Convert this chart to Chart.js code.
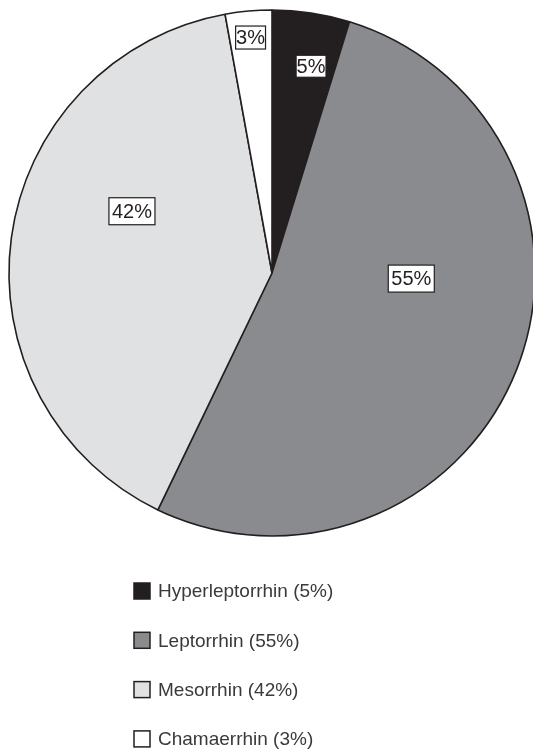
<!DOCTYPE html>
<html>
<head>
<meta charset="utf-8">
<script src="https://cdn.jsdelivr.net/npm/chart.js@4.4.1/dist/chart.umd.min.js"></script>
<style>
  html, body { margin: 0; padding: 0; background: #ffffff; }
  #wrap { width: 533px; height: 752px; overflow: hidden; position: relative; }
  canvas { display: block; }
</style>
</head>
<body>
<div id="wrap"><canvas id="nasal" width="544" height="752"></canvas></div>
<script>
// Nasal index classes and their shares (%)
const categories = ['Hyperleptorrhin', 'Leptorrhin', 'Mesorrhin', 'Chamaerrhin'];
const shares = [5, 55, 42, 3];

// Styling
const sliceColors = ['#231f20', '#8a8b8f', '#e0e1e3', '#ffffff'];
const outlineColor = '#231f20';
const FONT = '"Liberation Sans", Arial, Helvetica, sans-serif';

// Percentage boxes: angle clockwise from 12 o'clock (deg), fraction of radius,
// horizontal padding and box height
const labelPlacement = [
  { angle: 10.7,  frac: 0.800, padX: 0.5, h: 22 },
  { angle: 92.3,  frac: 0.530, padX: 3,   h: 27 },
  { angle: 293.8, frac: 0.582, padX: 3,   h: 27 },
  { angle: 354.8, frac: 0.899, padX: 0.5, h: 23 }
];

const percentBoxes = {
  id: 'percentBoxes',
  afterDatasetsDraw(chart) {
    const ctx = chart.ctx;
    const arcs = chart.getDatasetMeta(0).data;
    ctx.save();
    ctx.font = '20px ' + FONT;
    ctx.textAlign = 'center';
    ctx.textBaseline = 'middle';
    arcs.forEach((arc, i) => {
      const p = labelPlacement[i];
      const th = p.angle * Math.PI / 180;
      const r = arc.outerRadius * p.frac;
      const cx = arc.x + r * Math.sin(th);
      const cy = arc.y - r * Math.cos(th);
      const text = shares[i] + '%';
      const w = ctx.measureText(text).width + 2 * p.padX;
      const h = p.h;
      ctx.fillStyle = '#ffffff';
      ctx.fillRect(cx - w / 2, cy - h / 2, w, h);
      ctx.lineWidth = 1.2;
      ctx.strokeStyle = outlineColor;
      ctx.strokeRect(cx - w / 2, cy - h / 2, w, h);
      ctx.fillStyle = '#231f20';
      ctx.fillText(text, cx, cy + 1);
    });
    ctx.restore();
  }
};

// Vertical legend under the pie
const stackedLegend = {
  id: 'stackedLegend',
  afterDraw(chart) {
    const ctx = chart.ctx;
    const items = chart.options.plugins.legend.labels.generateLabels(chart);
    const left = 134, box = 16, textX = 158, firstY = 591, step = 49.3;
    ctx.save();
    ctx.font = '19px ' + FONT;
    ctx.textAlign = 'left';
    ctx.textBaseline = 'middle';
    items.forEach((it, i) => {
      const cy = firstY + i * step;
      ctx.fillStyle = it.fillStyle;
      ctx.fillRect(left, cy - box / 2, box, box);
      ctx.lineWidth = 1.5;
      ctx.strokeStyle = outlineColor;
      ctx.strokeRect(left, cy - box / 2, box, box);
      ctx.fillStyle = '#3a3a3a';
      ctx.fillText(it.text + ' (' + shares[it.index] + '%)', textX, cy + 1);
    });
    ctx.restore();
  }
};

new Chart(document.getElementById('nasal'), {
  type: 'pie',
  data: {
    labels: categories,
    datasets: [{
      data: shares,
      backgroundColor: sliceColors,
      borderColor: outlineColor,
      borderWidth: 1.6,
      radius: 263
    }]
  },
  options: {
    responsive: false,
    animation: false,
    events: [],
    layout: { padding: { left: 0, right: 0, top: 0, bottom: 206 } },
    plugins: {
      legend: { display: false },
      tooltip: { enabled: false }
    }
  },
  plugins: [percentBoxes, stackedLegend]
});
</script>
</body>
</html>
